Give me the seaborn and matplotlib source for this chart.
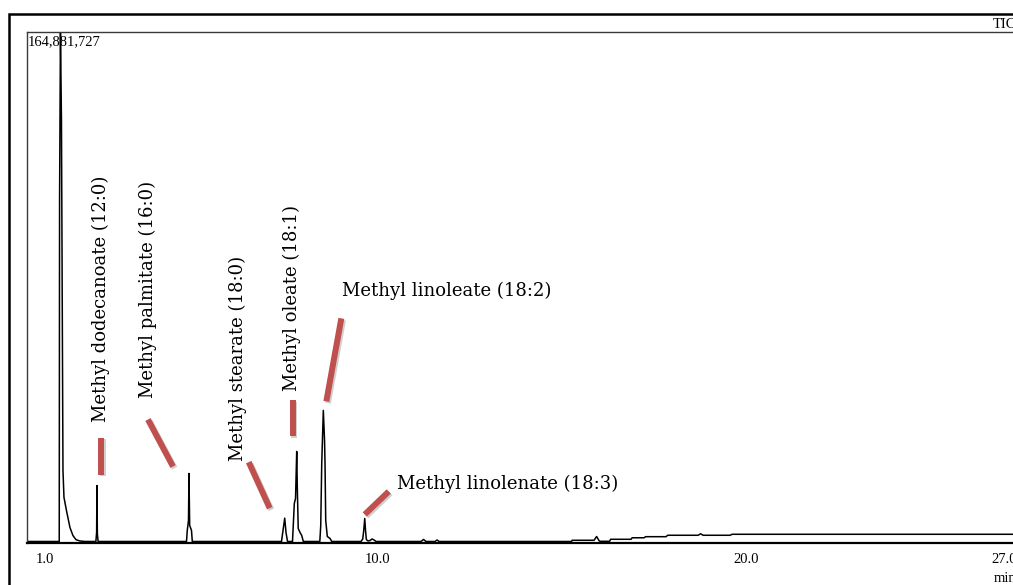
import numpy as np
import matplotlib
matplotlib.use("Agg")
import matplotlib.pyplot as plt
import matplotlib.patheffects as pe
from matplotlib.lines import Line2D
from matplotlib.patches import Rectangle
from matplotlib.transforms import IdentityTransform
import seaborn as sns

sns.set_style("white")
plt.rcParams["font.family"] = ["Liberation Serif", "DejaVu Serif"]

# Total ion chromatogram, retention time (min) vs. intensity (million counts)
solvent_t = [0.50, 1.387, 1.396, 1.420, 1.447, 1.474, 1.488, 1.515, 1.583, 1.678, 1.759, 1.840, 1.949, 2.084]
solvent_i = [0.0, 0.0, 110.4, 164.881727, 136.4, 61.9, 23.0, 14.3, 10.0, 4.5, 1.9, 0.6, 0.16, 0.0]

c12_t = [2.380, 2.400, 2.409, 2.420, 2.440]
c12_i = [0.0, 3.0, 18.1, 2.5, 0.0]

c16_t = [4.835, 4.856, 4.889, 4.902, 4.921, 4.970, 4.992]
c16_i = [0.0, 3.6, 6.8, 22.0, 5.2, 3.6, 0.0]

c18_0_t = [7.409, 7.450, 7.496, 7.531, 7.572]
c18_0_i = [0.0, 3.56, 7.55, 2.91, 0.0]

c18_1_t = [7.707, 7.734, 7.756, 7.789, 7.821, 7.837, 7.862, 7.911, 7.957, 8.000]
c18_1_i = [0.0, 6.80, 12.31, 13.93, 29.15, 17.49, 4.21, 2.91, 1.94, 0.0]

c18_2_t = [8.447, 8.472, 8.499, 8.542, 8.575, 8.588, 8.607, 8.650, 8.724, 8.770]
c18_2_i = [0.0, 5.18, 25.26, 42.43, 32.7, 25.26, 6.80, 1.62, 0.97, 0.0]

c18_3_t = [9.564, 9.610, 9.637, 9.664, 9.686, 9.707, 9.753, 9.808, 9.862, 9.916, 9.970]
c18_3_i = [0.0, 0.81, 3.56, 7.45, 3.56, 0.65, 0.16, 0.32, 0.81, 0.49, 0.0]

tail_t = [11.190, 11.257, 11.325, 11.569, 11.623, 11.678, 15.268, 15.282, 15.878, 15.946,
          16.014, 16.041, 16.298, 16.325, 16.881, 16.908, 17.233, 17.274, 17.829, 17.870,
          18.696, 18.764, 18.832, 19.564, 19.618, 28.0]
tail_i = [0.0, 0.65, 0.0, 0.0, 0.49, 0.0, 0.0, 0.39, 0.39, 1.62,
          0.23, 0.06, 0.06, 0.71, 0.71, 1.20, 1.20, 1.55, 1.55, 2.01,
          2.01, 2.49, 2.01, 2.01, 2.33, 2.33]

time = np.concatenate([solvent_t, c12_t, c16_t, c18_0_t, c18_1_t, c18_2_t, c18_3_t, tail_t])
intensity = np.concatenate([solvent_i, c12_i, c16_i, c18_0_i, c18_1_i, c18_2_i, c18_3_i, tail_i])

# Peak labels: name, apex time, apex intensity
peak_names = ["Methyl dodecanoate (12:0)", "Methyl palmitate (16:0)", "Methyl stearate (18:0)",
              "Methyl oleate (18:1)", "Methyl linoleate (18:2)", "Methyl linolenate (18:3)"]
peak_times = [2.409, 4.902, 7.496, 7.821, 8.542, 9.664]
peak_heights = [18.1, 22.0, 7.55, 29.15, 42.43, 7.45]

# Leader line ends and label position, as pixel offsets from each apex
leader_start = [(4, 48), (-41, 54), (-36, 56), (-4, 51), (18, 92), (24, 27)]
leader_end = [(4, 11), (-16, 7), (-15, 10), (-4, 15), (3, 9), (0, 4)]
label_offset = [(4, 187), (-41, 184), (-47, 160), (-5, 153), (19, 119), (32, 35)]
label_rotation = [90, 90, 90, 90, 0, 0]

tick_pos = list(range(1, 28))
tick_text = {1: "1.0", 10: "10.0", 20: "20.0", 27: "27.0"}

W, H = 1013, 585
fig = plt.figure(figsize=(W / 100, H / 100), dpi=100)
fig.patch.set_facecolor("white")
ax = fig.add_axes([26.5 / W, (H - 542.5) / H, 1015 / W, (542.5 - 32) / H])

sns.lineplot(x=time, y=intensity, ax=ax, color="black", linewidth=1.1,
             estimator=None, sort=False)

ax.set_xlim(0.5, 28.0)
ax.set_ylim(-0.33, 164.881727)
ax.set_yticks([])
ax.set_xticks(tick_pos)
ax.set_xticklabels([tick_text.get(p, "") for p in tick_pos])
ax.tick_params(axis="x", direction="out", length=2.3, width=0.9, pad=5,
               labelsize=10.5, colors="black")
for p, tick in zip(tick_pos, ax.xaxis.get_major_ticks()):
    if p % 5 == 0:
        tick.tick1line.set_markersize(5.8)
ax.set_xlabel("")
ax.set_ylabel("")

for side in ["top", "left"]:
    ax.spines[side].set_color("#3a3a3a")
    ax.spines[side].set_linewidth(1.0)
ax.spines["bottom"].set_color("black")
ax.spines["bottom"].set_linewidth(1.6)
ax.spines["right"].set_visible(False)

# Maximum intensity readout
ax.annotate(f"{int(round(max(solvent_i) * 1e6)):,}", xy=(0, 1), xycoords="axes fraction",
            xytext=(1, -10), textcoords="offset pixels", ha="left", va="center",
            fontsize=10.5, color="black")

# Peak labels with red leader lines
fig.canvas.draw()
for name, t, h, s, e, lo, rot in zip(peak_names, peak_times, peak_heights,
                                       leader_start, leader_end, label_offset, label_rotation):
    px, py = ax.transData.transform((t, h))
    line = Line2D([px + s[0], px + e[0]], [py + s[1], py + e[1]],
                  transform=IdentityTransform(), color="#c0504d", linewidth=4.3,
                  solid_capstyle="butt",
                  path_effects=[pe.SimpleLineShadow(offset=(1.2, -1.2), shadow_color="#777777", alpha=0.35),
                                pe.Normal()])
    fig.add_artist(line)
    ax.annotate(name, xy=(t, h), xytext=lo, textcoords="offset pixels",
                rotation=rot, ha="center" if rot else "left", va="center",
                fontsize=13, family=["DejaVu Serif"], color="black")

# Instrument frame and trace title
fig.add_artist(Rectangle((9 / W, -0.2), 1.2, 1.2 - 14 / H, transform=fig.transFigure,
                         fill=False, edgecolor="black", linewidth=1.8))
fig.text(993 / W, 1 - 24 / H, "TIC", ha="left", va="center", fontsize=10.5, color="black")
fig.text(994 / W, 1 - 578 / H, "min", ha="left", va="center", fontsize=10.5, color="black")

fig.savefig("out.png", dpi=100, facecolor="white")
